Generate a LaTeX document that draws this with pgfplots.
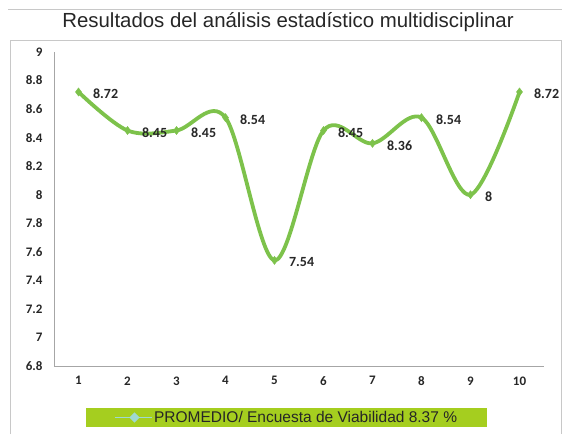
\documentclass[border=0pt]{standalone}
\usepackage{fontspec}
\setmainfont{Liberation Sans}
\newfontfamily\carlito{Carlito}
\usepackage{pgfplots}
\pgfplotsset{compat=1.18}
\definecolor{lineG}{HTML}{7DC24B}
\definecolor{legG}{HTML}{A5CE1F}
\definecolor{legL}{HTML}{9FD9D2}
\definecolor{frameG}{HTML}{C8C8C8}
\definecolor{axG}{HTML}{A6A6A6}
\definecolor{txt}{HTML}{262626}
\begin{document}
\begin{tikzpicture}
\path[use as bounding box] (0pt,0pt) rectangle (562pt,434pt);
% frame
\draw[frameG, line width=1pt] (8pt,424pt) -- (562pt,424pt);
\draw[frameG, line width=1pt] (10pt,0pt) -- (10pt,393pt) -- (561pt,393pt) -- (561pt,0pt);
\node[font=\fontsize{20.4}{22}\selectfont, text=txt, anchor=base] at (288pt,406pt) {Resultados del análisis estadístico multidisciplinar};
\begin{axis}[
  at={(54pt,68pt)}, anchor=south west,
  width=490pt, height=314pt, scale only axis,
  xmin=0.5, xmax=10.5, ymin=6.8, ymax=9,
  axis x line*=bottom, axis y line*=left,
  axis line style={axG, line width=0.8pt, -},
  major tick length=0pt,
  xtick={1,...,10},
  ytick={6.8,7,7.2,7.4,7.6,7.8,8,8.2,8.4,8.6,8.8,9},
  yticklabels={6.8,7,7.2,7.4,7.6,7.8,8,8.2,8.4,8.6,8.8,9},
  /pgf/number format/assume math mode=true,
  tick label style={font=\carlito\bfseries\fontsize{13}{14}\selectfont, text=txt},
  y tick label style={xshift=-8pt},
  x tick label style={yshift=-7pt},
  clip=false,
  legend style={
    at={(0.4745,-0.164)}, anchor=center,
    fill=legG, draw=none,
    font=\fontsize{15.5}{16}\selectfont, text=txt,
    inner xsep=28pt, inner ysep=1.5pt,
  },
  legend image code/.code={
    \draw[legL, line width=1.2pt] (0pt,0pt) -- (37pt,0pt);
    \fill[legL] (20pt,2.5pt) -- (22.5pt,0pt) -- (20pt,-2.5pt) -- (17.5pt,0pt) -- cycle;
  },
]
\addplot[lineG, line width=3.8pt, smooth, tension=0.55,
  mark=diamond*, mark size=4pt, mark options={fill=lineG, draw=lineG, line width=0.5pt},
  nodes near coords,
  nodes near coords style={anchor=west, xshift=11pt, yshift=-2pt, text=txt,
    font=\carlito\bfseries\fontsize{14}{15}\selectfont,
    /pgf/number format/fixed, /pgf/number format/precision=2},
] coordinates {
  (1,8.72) (2,8.45) (3,8.45) (4,8.54) (5,7.54)
  (6,8.45) (7,8.36) (8,8.54) (9,8) (10,8.72)
};
\addlegendentry{PROMEDIO/ Encuesta de Viabilidad 8.37 \%}
\end{axis}
\end{tikzpicture}
\end{document}
